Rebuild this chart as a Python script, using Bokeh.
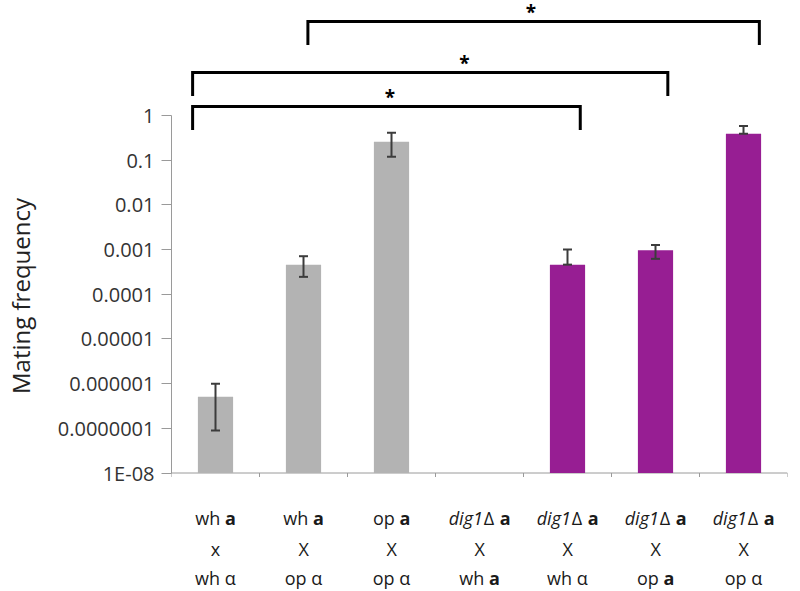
import math
from bokeh.plotting import figure
from bokeh.models import (ColumnDataSource, Range1d, FixedTicker,
                          CustomJSTickFormatter, Whisker, TeeHead)
from bokeh.core.properties import value
from bokeh.embed import file_html
from bokeh.resources import INLINE

# ---------------- data ----------------
categories = ["wh a x wh α", "wh a X op α", "op a X op α", "dig1Δ a X wh a",
              "dig1Δ a X wh α", "dig1Δ a X op a", "dig1Δ a X op α"]
strain_group = ["wt", "wt", "wt", "dig1", "dig1", "dig1", "dig1"]
frequency = [5.1e-7, 4.6e-4, 0.26, None, 4.6e-4, 9.6e-4, 0.39]
err_upper = [1.0e-6, 7.1e-4, 0.41, None, 1.0e-3, 1.26e-3, 0.58]
err_lower = [8.9e-8, 2.45e-4, 0.12, None, 4.6e-4, 6.2e-4, 0.39]

tick_values = [1e-8, 1e-7, 1e-6, 1e-5, 1e-4, 1e-3, 1e-2, 1e-1, 1.0]
tick_labels = ["1E-08", "0.0000001", "0.000001", "0.00001", "0.0001",
               "0.001", "0.01", "0.1", "1"]

# label lines: (text, style) segments, n=normal b=bold i=italic
label_line1 = [[("wh ", "n"), ("a", "b")],
               [("wh ", "n"), ("a", "b")],
               [("op ", "n"), ("a", "b")],
               [("dig1", "i"), ("Δ ", "n"), ("a", "b")],
               [("dig1", "i"), ("Δ ", "n"), ("a", "b")],
               [("dig1", "i"), ("Δ ", "n"), ("a", "b")],
               [("dig1", "i"), ("Δ ", "n"), ("a", "b")]]
label_line2 = [[("x", "n")]] + [[("X", "n")]] * 6
label_line3 = [[("wh α", "n")], [("op α", "n")], [("op α", "n")],
               [("wh ", "n"), ("a", "b")], [("wh α", "n")],
               [("op ", "n"), ("a", "b")], [("op α", "n")]]

comparisons = [(0, 4), (0, 5), (1, 6)]
comparison_marks = ["*", "*", "*"]

# ---------------- layout / style ----------------
FONT = "Open Sans"
GRAY = "#B3B3B3"
PURPLE = "#971E93"
FRAME_H = 591
PPD = 44.6875                       # pixels per decade
LOG_TOP = 115 / PPD                 # value 1 sits 115 px below the top
LOG_BOT = -8 - (FRAME_H - 472.5) / PPD
BASE = tick_values[0]


def shift(y, px):
    """move a log-scale data value px screen pixels down (negative = up)"""
    return y * 10 ** (-px / PPD)


p = figure(width=795, height=FRAME_H, title=None, toolbar_location=None,
           output_backend="svg", y_axis_type="log",
           x_range=Range1d(0, len(categories)),
           y_range=Range1d(10 ** LOG_BOT, 10 ** LOG_TOP),
           x_axis_location=None,
           min_border_left=169, min_border_right=8,
           min_border_top=0, min_border_bottom=0)
p.outline_line_color = None
p.xgrid.visible = False
p.ygrid.visible = False
p.background_fill_color = "white"
p.border_fill_color = "white"

# y axis
ya = p.yaxis[0]
ya.bounds = (tick_values[0], tick_values[-1])
ya.ticker = FixedTicker(ticks=tick_values, minor_ticks=[])
ya.formatter = CustomJSTickFormatter(args=dict(vals=tick_values, labs=tick_labels), code="""
let best = 0, bd = Infinity;
for (let i = 0; i < vals.length; i++) {
  const d = Math.abs(Math.log10(vals[i]) - Math.log10(tick));
  if (d < bd) { bd = d; best = i; }
}
return labs[best];
""")
ya.axis_line_color = "#9a9a9a"
ya.major_tick_line_color = "#9a9a9a"
ya.major_tick_out = 10
ya.major_tick_in = 0
ya.minor_tick_line_color = None
ya.major_label_standoff = 7
ya.major_label_text_font = FONT
ya.major_label_text_font_size = "20px"
ya.major_label_text_color = "#333333"
ya.axis_label = "Mating frequency"
ya.axis_label_text_font = FONT
ya.axis_label_text_font_size = "24px"
ya.axis_label_text_font_style = "normal"
ya.axis_label_text_color = "#222222"
ya.axis_label_standoff = 18

# x axis drawn with the same scale
n = len(categories)
p.segment(x0=[0], y0=[BASE], x1=[n], y1=[BASE], line_color="#9a9a9a", line_width=1)
p.segment(x0=list(range(n + 1)), y0=[BASE] * (n + 1), x1=list(range(n + 1)),
          y1=[shift(BASE, 4)] * (n + 1), line_color="#9a9a9a", line_width=1)

# bars
xs, tops, cols, ups, los = [], [], [], [], []
for i, v in enumerate(frequency):
    if v is None:
        continue
    xs.append(i + 0.5)
    tops.append(v)
    cols.append(GRAY if strain_group[i] == "wt" else PURPLE)
    ups.append(err_upper[i])
    los.append(err_lower[i])
src = ColumnDataSource(dict(x=xs, top=tops, color=cols, up=ups, lo=los))
p.vbar(x="x", top="top", bottom=BASE, width=0.4, fill_color="color",
       line_color=None, source=src)

ecol = "#3c3c3c"
p.add_layout(Whisker(source=src, base="x", upper="up", lower="lo",
                     dimension="height", line_color=ecol, line_width=2,
                     level="overlay",
                     upper_head=TeeHead(size=9, line_color=ecol, line_width=2),
                     lower_head=TeeHead(size=9, line_color=ecol, line_width=2)))

# significance brackets
bracket_levels = [1.6, 9.2, 127.0]
bracket_off = [(-0.26, 0.145), (-0.26, 0.14), (0.05, 0.18)]
star_off = [0.04, 0.39, -0.03]
LEG_PX = 23.5
bx, by, sx, sy = [], [], [], []
for k, (a, b) in enumerate(comparisons):
    xl = a + 0.5 + bracket_off[k][0]
    xr = b + 0.5 + bracket_off[k][1]
    lvl = bracket_levels[k]
    leg = shift(lvl, LEG_PX)
    bx.append([xl, xl, xr, xr])
    by.append([leg, lvl, lvl, leg])
    sx.append((xl + xr) / 2 + star_off[k])
    sy.append(shift(lvl, -9))
p.multi_line(xs=bx, ys=by, line_color="black", line_width=3, line_join="miter")
p.text(x=sx, y=sy, text=comparison_marks, text_align="center",
       text_baseline="middle", text_font=value(FONT), text_font_size="19px",
       text_font_style="bold", text_color="black")

# category labels (multi-style)
FS = 18
W = {"n": {' ': 0.26, 'a': 0.556, 'd': 0.613, 'g': 0.548, 'h': 0.614, 'i': 0.253,
           'o': 0.604, 'p': 0.613, 'w': 0.78, '1': 0.572, 'Δ': 0.62, 'α': 0.613,
           'X': 0.552, 'x': 0.525},
     "b": {'a': 0.59, ' ': 0.26},
     "i": {'d': 0.6, 'i': 0.25, 'g': 0.53, '1': 0.572}}


def seg_width(txt, st):
    return sum(W[st].get(c, W["n"].get(c, 0.58)) for c in txt) * FS


groups = {"n": dict(x=[], y=[], t=[], o=[]), "b": dict(x=[], y=[], t=[], o=[]),
          "i": dict(x=[], y=[], t=[], o=[])}
line_px = [44.5, 75.5, 104.5]
for li, lines in enumerate([label_line1, label_line2, label_line3]):
    for ci, segs in enumerate(lines):
        total = sum(seg_width(t, s) for t, s in segs)
        off = -total / 2
        for t, s in segs:
            g = groups[s]
            g["x"].append(ci + 0.5)
            g["y"].append(shift(BASE, line_px[li]))
            g["t"].append(t)
            g["o"].append(off)
            off += seg_width(t, s)
styles = {"n": "normal", "b": "bold", "i": "italic"}
for s, g in groups.items():
    if not g["x"]:
        continue
    p.text(x=g["x"], y=g["y"], text=g["t"], x_offset=g["o"], text_align="left",
           text_baseline="middle", text_font=value(FONT),
           text_font_size=f"{FS}px", text_font_style=styles[s], text_color="#1a1a1a")

open("out.html", "w").write(file_html(p, INLINE))
